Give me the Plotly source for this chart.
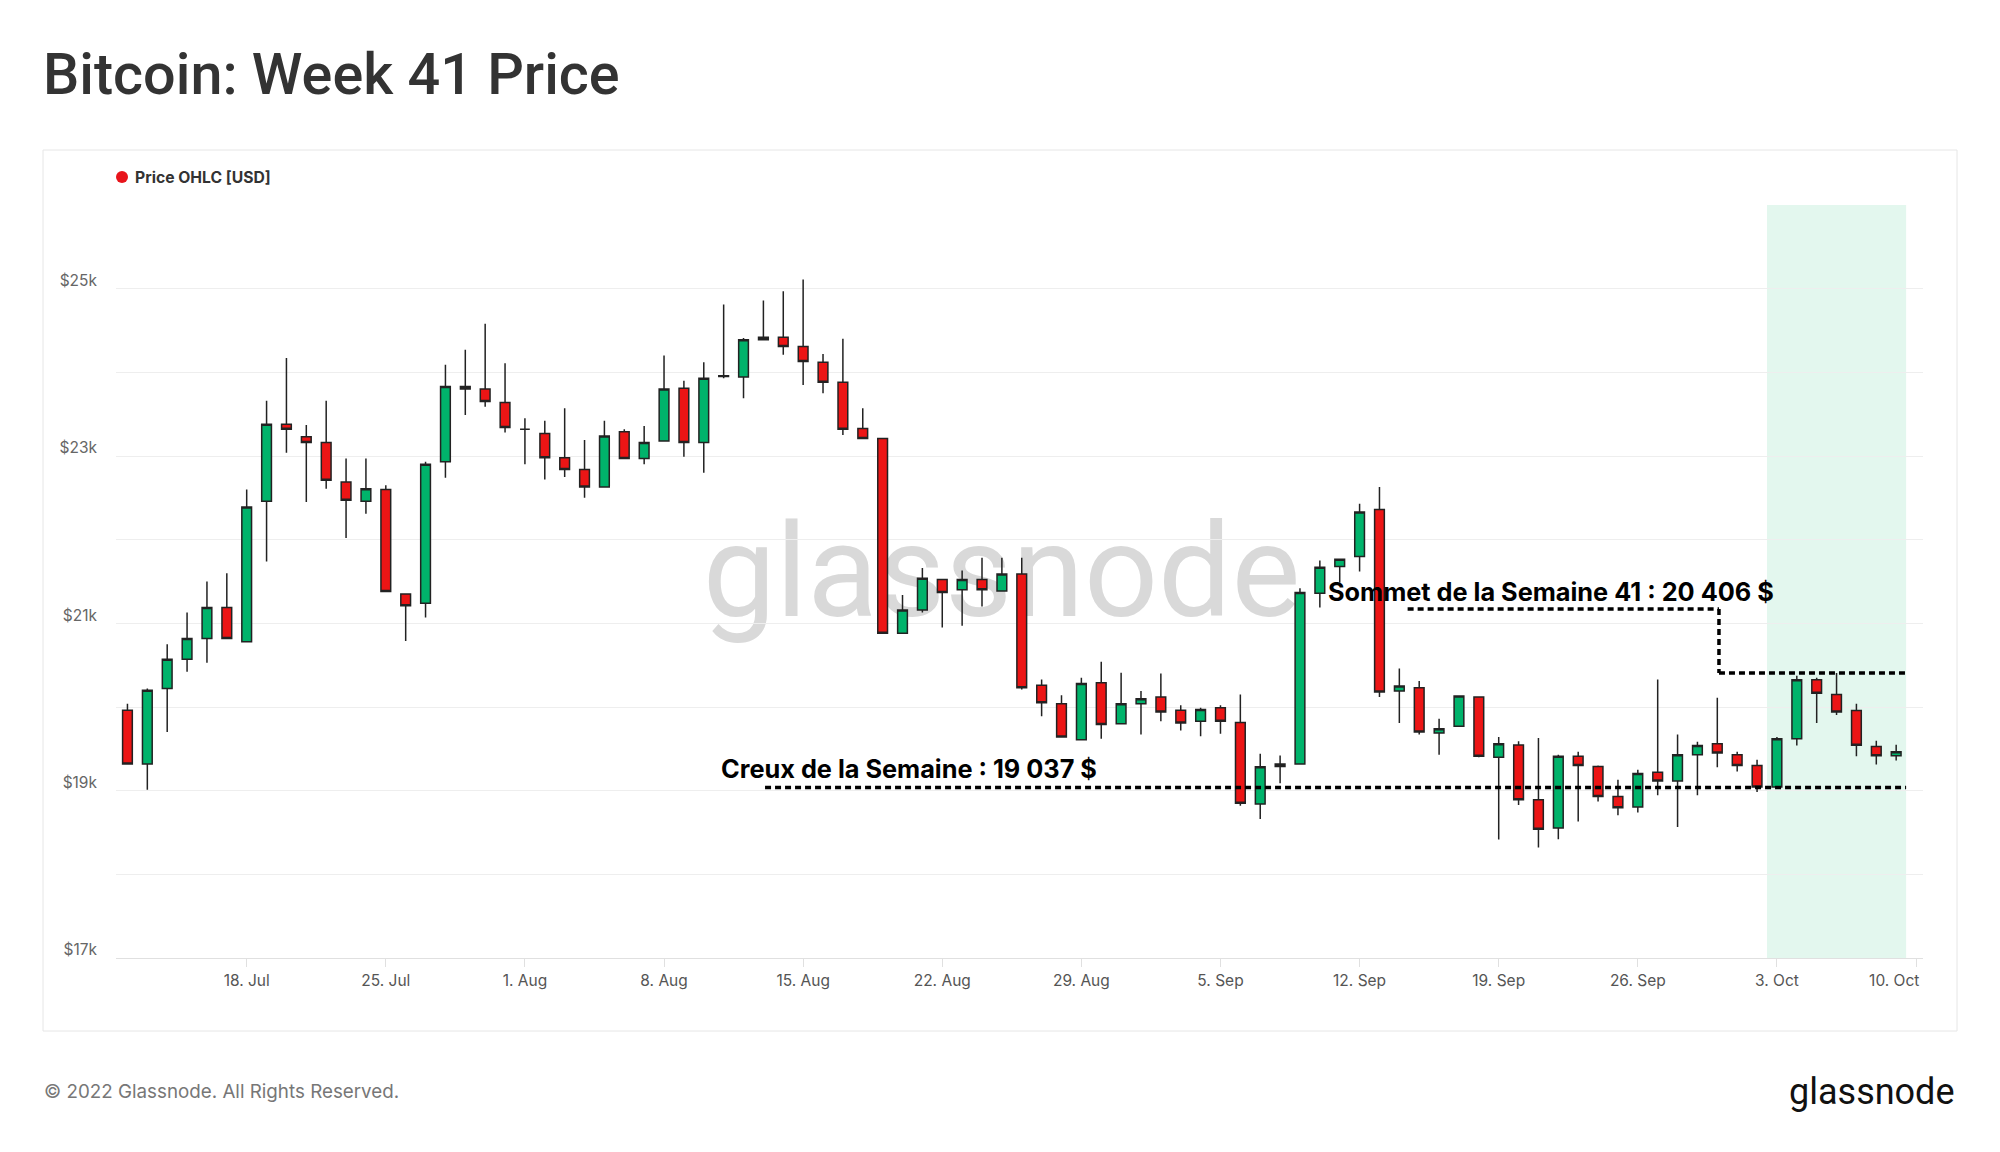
import pandas as pd
import plotly.graph_objects as go

# ---------------- data (daily OHLC, USD) ----------------
dates = pd.date_range("2022-07-12", "2022-10-09", freq="D")

open_ = [
    19960, 19320, 20220, 20570, 20820, 21190, 20780, 22460, 23380, 23230,
    23160, 22690, 22460, 22600, 21350, 21240, 22930, 23830, 23800, 23640,
    23320, 23270, 22980, 22840, 22630, 23290, 22970, 23180, 23810, 23160,
    23960, 23945, 24390, 24420, 24310, 24120, 23880, 23330, 23210, 20880,
    21160, 21525, 21400, 21525, 21385, 21590, 20260, 20040, 19610, 20290,
    19800, 20040, 20120, 19960, 19830, 19990, 19815, 18840, 19290, 19320,
    21360, 21680, 21800, 22360, 20190, 20230, 19690, 19770, 20120, 19400,
    19545, 18890, 18555, 19410, 19290, 18930, 18805, 19220, 19115, 19430,
    19560, 19430, 19300, 19045, 19620, 20325, 20150, 19958, 19527, 19416,
]
high = [
    20040, 20220, 20750, 21130, 21500, 21600, 22600, 23660, 24170, 23370,
    23660, 22970, 22970, 22650, 21350, 22930, 24090, 24270, 24580, 24110,
    23450, 23420, 23570, 23190, 23420, 23320, 23360, 24200, 23900, 24120,
    24810, 24410, 24860, 24970, 25110, 24220, 24400, 23570, 23210, 21340,
    21660, 21525, 21630, 21785, 21785, 21785, 20330, 20140, 20350, 20540,
    20410, 20190, 20400, 20020, 19990, 20020, 20150, 19440, 19420, 21420,
    21750, 21765, 22430, 22630, 20460, 20310, 19860, 20140, 20120, 19640,
    19590, 19630, 19430, 19465, 19300, 19130, 19250, 20330, 19670, 19585,
    20110, 19465, 19370, 19640, 20375, 20350, 20406, 20040, 19596, 19550,
]
low = [
    19320, 19010, 19700, 20420, 20530, 20820, 20780, 21740, 23040, 22450,
    22610, 22020, 22310, 21380, 20790, 21070, 22740, 23490, 23590, 23280,
    22900, 22720, 22750, 22500, 22630, 22970, 22900, 23180, 22990, 22800,
    23930, 23690, 24380, 24210, 23850, 23750, 23250, 23200, 20880, 20880,
    21130, 20950, 20970, 21200, 21385, 20210, 19890, 19640, 19610, 19620,
    19800, 19670, 19830, 19720, 19650, 19680, 18820, 18660, 19090, 19320,
    21190, 21485, 21620, 20120, 19810, 19670, 19430, 19770, 19400, 18415,
    18830, 18320, 18420, 18630, 18870, 18705, 18740, 18945, 18565, 18945,
    19280, 19230, 18985, 19037, 19540, 19810, 19905, 19410, 19312, 19360,
]
close = [
    19320, 20200, 20570, 20820, 21190, 20820, 22390, 23380, 23320, 23160,
    22710, 22470, 22610, 21380, 21210, 22900, 23830, 23800, 23650, 23340,
    23320, 22980, 22840, 22630, 23240, 22970, 23160, 23800, 23160, 23930,
    23950, 24390, 24420, 24310, 24130, 23880, 23320, 23210, 20880, 21160,
    21540, 21370, 21525, 21400, 21590, 20230, 20050, 19640, 20280, 19790,
    20040, 20100, 19940, 19810, 19970, 19830, 18850, 19285, 19320, 21370,
    21670, 21765, 22330, 20180, 20250, 19700, 19740, 20130, 19410, 19560,
    18890, 18540, 19410, 19300, 18930, 18795, 19205, 19115, 19430, 19540,
    19450, 19300, 19045, 19620, 20325, 20165, 19940, 19543, 19416, 19464,
]

y_tick_vals = list(range(17000, 26001, 1000))
y_tick_text = ["$17k", "", "$19k", "", "$21k", "", "$23k", "", "$25k", ""]

x_tick_vals = ["2022-07-18", "2022-07-25", "2022-08-01", "2022-08-08", "2022-08-15",
               "2022-08-22", "2022-08-29", "2022-09-05", "2022-09-12", "2022-09-19",
               "2022-09-26", "2022-10-03", "2022-10-10"]
x_tick_text = ["18. Jul", "25. Jul", "1. Aug", "8. Aug", "15. Aug", "22. Aug", "29. Aug",
               "5. Sep", "12. Sep", "19. Sep", "26. Sep", "3. Oct",
               "10. Oct" + "\u00a0" * 10]

week_low = 19037
week_high = 20406
week_start, week_end = "2022-10-02 12:00", "2022-10-09 12:00"
low_line_start = "2022-08-13 02:00"
high_callout_start = "2022-09-14 10:00"
high_callout_step = "2022-09-30 02:00"
high_callout_level = 21170

# ---------------- layout helpers ----------------
W, H = 2000, 1152
L, R, T, B = 116, 1923, 205, 958


def px(x):
    return (x - L) / (R - L)


def py(y):
    return (B - y) / (B - T)


GREEN = "#00b36b"
RED = "#ec1515"
OUTLINE = "#222222"
FONT = "Inter"

fig = go.Figure()
fig.add_trace(go.Candlestick(
    x=dates, open=open_, high=high, low=low, close=close,
    increasing=dict(fillcolor=GREEN, line=dict(color=OUTLINE, width=1.5)),
    decreasing=dict(fillcolor=RED, line=dict(color=OUTLINE, width=1.5)),
    showlegend=False, hoverinfo="x+y",
))

shapes = []
# outer frame
shapes.append(dict(type="rect", xref="paper", yref="paper",
                   x0=px(43), x1=px(1957), y0=py(1031), y1=py(150),
                   line=dict(color="#e6e6e6", width=1), fillcolor="rgba(0,0,0,0)",
                   layer="below"))
# week shading
shapes.append(dict(type="rect", xref="x", yref="y", x0=week_start, x1=week_end,
                   y0=17000, y1=26000, fillcolor="#e3f7ee", line=dict(width=0),
                   layer="below"))
# watermark (text label of an invisible shape, drawn below traces)
shapes.append(dict(type="rect", xref="paper", yref="paper",
                   x0=px(800), x1=px(1203), y0=py(594), y1=py(530),
                   line=dict(width=0), fillcolor="rgba(0,0,0,0)", layer="below",
                   label=dict(text="glassnode", textposition="middle center",
                              font=dict(family="Roboto", size=130, color="#d9d9d9"))))
# legend dot
shapes.append(dict(type="circle", xref="paper", yref="paper",
                   xsizemode="pixel", ysizemode="pixel",
                   xanchor=px(122), yanchor=py(177), x0=-6, x1=6, y0=-6, y1=6,
                   fillcolor="#e8141b", line=dict(width=0)))

dot = dict(color="black", width=3.5, dash="6px,4px")
shapes.append(dict(type="line", xref="x", yref="y", x0=low_line_start, x1=week_end,
                   y0=week_low, y1=week_low, line=dot, layer="above"))
shapes.append(dict(type="line", xref="x", yref="y", x0=high_callout_start, x1=high_callout_step,
                   y0=high_callout_level, y1=high_callout_level, line=dot, layer="above"))
shapes.append(dict(type="line", xref="x", yref="y", x0=high_callout_step, x1=high_callout_step,
                   y0=high_callout_level, y1=week_high, line=dot, layer="above"))
shapes.append(dict(type="line", xref="x", yref="y", x0=high_callout_step, x1=week_end,
                   y0=week_high, y1=week_high, line=dot, layer="above"))

annotations = [
    dict(text="Bitcoin: Week 41 Price", xref="paper", yref="paper",
         x=px(41), y=py(75), xanchor="left", yanchor="middle", showarrow=False,
         font=dict(family="Roboto", size=57.5, color="#333333", weight=500)),
    dict(text="<b>Price OHLC [USD]</b>", xref="paper", yref="paper",
         x=px(133), y=py(177), xanchor="left", yanchor="middle", showarrow=False,
         font=dict(family=FONT, size=15.7, color="#333333")),
    dict(text="<b>Sommet de la Semaine 41 : 20 406 $</b>", xref="paper", yref="paper",
         x=px(1551), y=py(591), xanchor="center", yanchor="middle", showarrow=False,
         font=dict(family=FONT, size=25.3, color="#000000")),
    dict(text="<b>Creux de la Semaine : 19 037 $</b>", xref="paper", yref="paper",
         x=px(909), y=py(768), xanchor="center", yanchor="middle", showarrow=False,
         font=dict(family=FONT, size=25.3, color="#000000")),
    dict(text="© 2022 Glassnode. All Rights Reserved.", xref="paper", yref="paper",
         x=px(42), y=py(1091), xanchor="left", yanchor="middle", showarrow=False,
         font=dict(family=FONT, size=18.8, color="#777777")),
    dict(text="glassnode", xref="paper", yref="paper",
         x=px(1957), y=py(1092), xanchor="right", yanchor="middle", showarrow=False,
         font=dict(family="Roboto", size=36, color="#111111")),
]

fig.update_layout(
    width=W, height=H,
    margin=dict(l=L, r=W - R, t=T, b=H - B, pad=0),
    paper_bgcolor="white", plot_bgcolor="white",
    shapes=shapes, annotations=annotations,
    showlegend=False,
    xaxis=dict(
        type="date",
        range=["2022-07-11 10:10", "2022-10-10 08:24"],
        rangeslider=dict(visible=False),
        tickvals=x_tick_vals, ticktext=x_tick_text,
        showgrid=False, zeroline=False,
        showline=True, linecolor="#e0e0e0", linewidth=1,
        ticks="outside", ticklen=8, tickcolor="#e0e0e0",
        tickfont=dict(family=FONT, size=15.5, color="#555555"),
    ),
    yaxis=dict(
        range=[17000, 26000],
        tickvals=y_tick_vals, ticktext=y_tick_text,
        showgrid=True, gridcolor="#eeeeee", gridwidth=1,
        zeroline=False, showline=False, ticks="",
        tickfont=dict(family=FONT, size=15.5, color="#666666"),
        ticklabelstandoff=18, ticklabelshift=-8,
    ),
)

fig.write_html("out.html", config={"displayModeBar": False},
               post_script="document.body.style.margin='0';document.body.style.padding='0';")
